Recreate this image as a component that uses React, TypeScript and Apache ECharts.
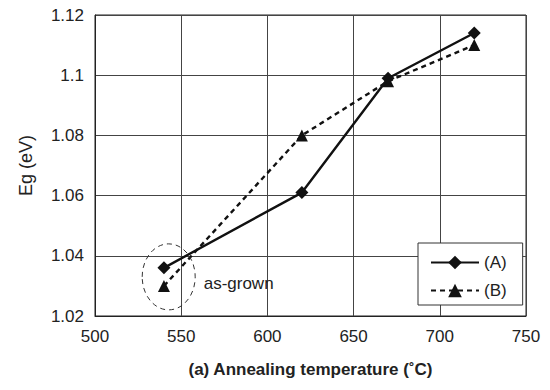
import React, { useEffect, useRef } from "react";
import * as echarts from "echarts";

const temperatures = [540, 620, 670, 720];
const seriesA = [1.036, 1.061, 1.099, 1.114];
const seriesB = [1.03, 1.08, 1.098, 1.11];
const seriesNames = ["(A)", "(B)"];
const xTitle = "(a) Annealing temperature (˚C)";
const yTitle = "Eg (eV)";
const annotationText = "as-grown";
const annotationPoint = [541, 1.033];

const FONT = "Arial, 'Liberation Sans', Helvetica, sans-serif";
const FS = 17;

export default function App() {
  const ref = useRef<HTMLDivElement>(null);
  useEffect(() => {
    if (!ref.current) return;
    const chart = echarts.init(ref.current, undefined, { renderer: "svg" });
    const option: any = {
      animation: false,
      backgroundColor: "#ffffff",
      textStyle: { fontFamily: FONT },
      grid: {
        left: 95,
        right: 24,
        top: 15,
        bottom: 74,
        show: true,
        borderColor: "#222",
        borderWidth: 1,
      },
      legend: {
        left: 418,
        top: 243,
        orient: "vertical",
        backgroundColor: "#fff",
        borderColor: "#333",
        borderWidth: 1,
        borderRadius: 0,
        padding: [11, 16, 6, 12],
        itemGap: 11,
        itemWidth: 48,
        itemHeight: 17,
        textStyle: { fontFamily: FONT, fontSize: FS, color: "#222" },
        data: seriesNames,
      },
      xAxis: {
        type: "value",
        min: 500,
        max: 750,
        interval: 50,
        name: xTitle,
        nameLocation: "middle",
        nameGap: 45,
        nameTextStyle: { fontFamily: FONT, fontSize: FS, fontWeight: "bold", color: "#222" },
        axisLine: { show: true, lineStyle: { color: "#222", width: 1 } },
        axisTick: { show: false },
        axisLabel: { fontFamily: FONT, fontSize: FS, color: "#222", margin: 12 },
        splitLine: { show: true, lineStyle: { color: "#444", width: 1 } },
      },
      yAxis: {
        type: "value",
        min: 1.02,
        max: 1.12,
        interval: 0.02,
        name: yTitle,
        nameLocation: "middle",
        nameGap: 60,
        nameTextStyle: { fontFamily: FONT, fontSize: FS + 1, color: "#222" },
        axisLine: { show: true, lineStyle: { color: "#222", width: 1 } },
        axisTick: { show: false },
        axisLabel: {
          fontFamily: FONT,
          fontSize: FS,
          color: "#222",
          margin: 11,
          formatter: (v: number) => String(parseFloat(v.toFixed(2))),
        },
        splitLine: { show: true, lineStyle: { color: "#444", width: 1 } },
      },
      series: [
        {
          name: seriesNames[0],
          type: "line",
          data: temperatures.map((t, i) => [t, seriesA[i]]),
          symbol: "diamond",
          symbolSize: 13,
          itemStyle: { color: "#111" },
          lineStyle: { color: "#111", width: 2.4, type: "solid" },
          z: 3,
        },
        {
          name: seriesNames[1],
          type: "line",
          data: temperatures.map((t, i) => [t, seriesB[i]]),
          symbol: "triangle",
          symbolSize: 12,
          itemStyle: { color: "#111" },
          lineStyle: { color: "#111", width: 2.4, type: [5, 4] },
          z: 2,
        },
      ],
    };
    chart.setOption(option);
    const c = chart.convertToPixel({ gridIndex: 0 }, annotationPoint) as number[];
    chart.setOption({
      graphic: [
        {
          type: "ellipse",
          shape: { cx: c[0] + 3, cy: c[1], rx: 26.5, ry: 33 },
          style: { fill: "none", stroke: "#333", lineWidth: 1, lineDash: [5, 4] },
          z: 10,
        },
        {
          type: "text",
          x: c[0] + 38,
          y: c[1] + 7,
          style: {
            text: annotationText,
            fontFamily: FONT,
            fontSize: FS,
            fill: "#222",
            verticalAlign: "middle",
            align: "left",
          },
          z: 10,
        },
      ],
    });
    return () => chart.dispose();
  }, []);
  return <div ref={ref} style={{ width: 550, height: 390, margin: -8 }} />;
}
